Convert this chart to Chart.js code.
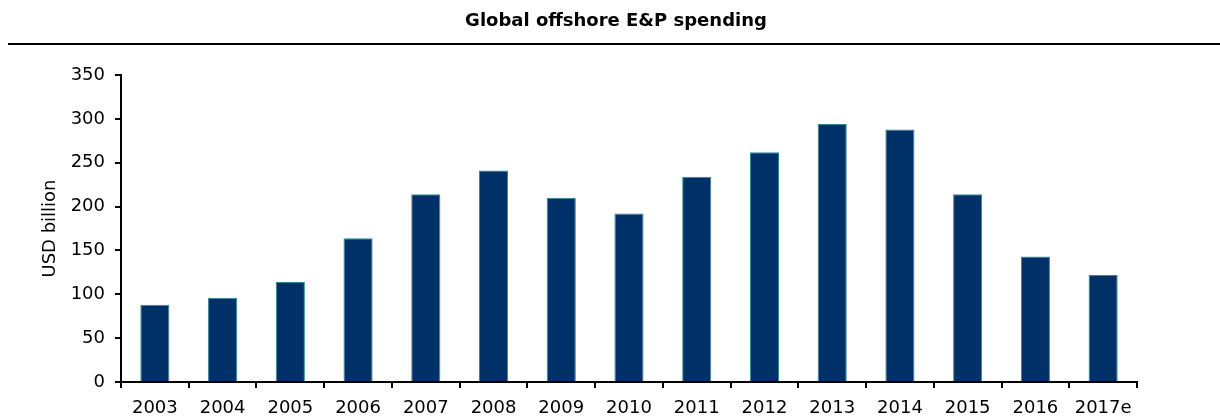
<!DOCTYPE html>
<html>
<head>
<meta charset="utf-8">
<script src="https://cdn.jsdelivr.net/npm/chart.js@4"></script>
<style>
  html, body { margin: 0; padding: 0; background: #fff; }
  #wrap { width: 1220px; height: 419px; position: relative; }
</style>
</head>
<body>
<div id="wrap"><canvas id="chart" width="1220" height="419"></canvas></div>
<script>
  const years = ['2003', '2004', '2005', '2006', '2007', '2008', '2009', '2010',
    '2011', '2012', '2013', '2014', '2015', '2016', '2017e'];
  const spending = [88, 96, 114, 164, 214, 241, 210, 192, 234, 262, 294, 288, 214, 143, 122];
  const yTicks = [0, 50, 100, 150, 200, 250, 300, 350];
  const chartTitle = 'Global offshore E&P spending';

  const font = 'DejaVu Sans, Verdana, sans-serif';

  // 标题和下方的横线
  const header = {
    id: 'header',
    afterDraw(chart) {
      const ctx = chart.ctx;
      ctx.save();
      ctx.fillStyle = '#000';
      ctx.font = 'bold 18px ' + font;
      ctx.textAlign = 'center';
      ctx.textBaseline = 'middle';
      ctx.fillText(chartTitle, 616, 21);
      ctx.strokeStyle = '#000';
      ctx.lineWidth = 2;
      ctx.beginPath();
      ctx.moveTo(8, 44);
      ctx.lineTo(chart.width, 44);
      ctx.stroke();
      ctx.restore();
    }
  };

  const config = {
    type: 'bar',
    data: {
      labels: years,
      datasets: [{
        label: 'USD billion',
        data: spending,
        backgroundColor: '#003068',
        borderColor: '#2e8b8f',
        borderWidth: 1,
        categoryPercentage: 1,
        barPercentage: 0.43
      }]
    },
    options: {
      responsive: false,
      animation: false,
      layout: { padding: { left: 0, right: 83, top: 75, bottom: 0 } },
      plugins: {
        legend: { display: false },
        tooltip: { enabled: false },
        title: { display: false }
      },
      scales: {
        x: {
          grid: { display: true, offset: true, drawOnChartArea: false, color: '#000', lineWidth: 2, tickLength: 6 },
          border: { display: true, color: '#000', width: 2 },
          ticks: { color: '#000', font: { family: font, size: 18 }, padding: 10, maxRotation: 0 },
          afterFit: s => { s.height = 37; }
        },
        y: {
          min: 0,
          max: 350,
          afterBuildTicks: s => { s.ticks = yTicks.map(v => ({ value: v })); },
          grid: { display: true, drawOnChartArea: false, color: '#000', lineWidth: 2, tickLength: 6 },
          border: { display: true, color: '#000', width: 2 },
          ticks: { color: '#000', font: { family: font, size: 18 }, padding: 10 },
          title: {
            display: true,
            text: 'USD billion',
            color: '#000',
            font: { family: font, size: 18 },
            padding: { top: 40 }
          },
          afterFit: s => { s.width = 121; }
        }
      }
    },
    plugins: [header]
  };

  new Chart(document.getElementById('chart'), config);
</script>
</body>
</html>
